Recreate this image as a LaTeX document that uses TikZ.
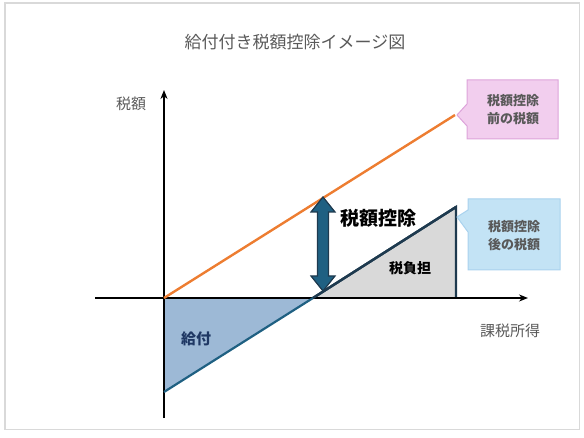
\documentclass[tikz,border=0pt]{standalone}
\usepackage{fontspec}
\usetikzlibrary{arrows.meta}
\setmainfont{Liberation Sans}
\newfontfamily\jp{Noto Sans CJK JP}
\newcommand\jpb{\jp\bfseries}
\definecolor{frame}{HTML}{D9D9D9}
\definecolor{orangeL}{HTML}{ED7D31}
\definecolor{blueL}{HTML}{1F6082}
\definecolor{blueF}{HTML}{9DB9D6}
\definecolor{grayF}{HTML}{D9D9D9}
\definecolor{darkO}{HTML}{1E3A4F}
\definecolor{txtG}{HTML}{595959}
\definecolor{navy}{HTML}{1F3864}
\definecolor{pinkF}{HTML}{F2CEEE}
\definecolor{pinkD}{HTML}{DDA3DA}
\definecolor{cyanF}{HTML}{C3E3F5}
\definecolor{cyanD}{HTML}{A9D2EE}
\begin{document}
\begin{tikzpicture}[x=1pt,y=-1pt,
  lbl/.style={inner sep=0pt,text=txtG,font=\jp\fontsize{15}{18}\selectfont},
  callout/.style={inner sep=0pt,text=txtG,align=center,font=\jpb\fontsize{13}{18}\selectfont},
  axis/.style={line width=1.6pt,-{Stealth[length=9pt,width=7pt]}}]
\useasboundingbox (0,0) rectangle (584,438);
\draw[frame,line width=1.2pt] (5,3) rectangle (579.5,429.5);
% title
\node[lbl,font=\jp\fontsize{17}{19}\selectfont] (title) at (295,42) {給付付き税額控除イメージ図};
% key points
\coordinate (O) at (164,298);
\coordinate (Z) at (313,298);
\coordinate (B0) at (164,392);
\coordinate (B1) at (456,207);
\coordinate (B2) at (456,298);
\coordinate (R1) at (455,115);
% filled triangles
\fill[blueF] (O) -- (Z) -- (B0) -- cycle;
\fill[grayF] (Z) -- (B1) -- (B2) -- cycle;
\draw[darkO,line width=2.4pt,line join=miter] (Z) -- (B1) -- (B2);
% axes
\coordinate (xs) at (95,298);
\coordinate (xe) at (528,298);
\coordinate (ys) at (164,418);
\coordinate (ye) at (164,90);
\draw[axis] (xs) -- (xe);
\draw[axis] (ys) -- (ye);
% lines
\draw[orangeL,line width=2.4pt] (O) -- (R1);
\draw[blueL,line width=2.2pt] (B0) -- (Z);
\draw[darkO,line width=2.4pt] (Z) -- (B1);
% double arrow
\fill[blueL,draw=darkO,line width=1.2pt,line join=miter]
  (323,197) -- (335,212) -- (328.5,212) -- (328.5,276) -- (335,276) -- (323,291)
  -- (311,276) -- (317.5,276) -- (317.5,212) -- (311,212) -- cycle;
% labels
\node[inner sep=0pt,font=\jpb\fontsize{19}{22}\selectfont] (kojo) at (378,218) {税額控除};
\node[inner sep=0pt,font=\jpb\fontsize{14}{16}\selectfont] (futan) at (410,268) {税負担};
\node[inner sep=0pt,text=navy,font=\jpb\fontsize{15}{18}\selectfont] (kyufu) at (196,339) {給付};
\node[lbl] (zeigaku) at (131,104) {税額};
\node[lbl] (kazei) at (510,331) {課税所得};
% callouts
\filldraw[fill=pinkF,draw=pinkD,line width=1pt,line join=miter]
  (467,80) -- (558,80) -- (558,139) -- (467,139) -- (467,126) -- (457,115) -- (467,104) -- cycle;
\node[callout] (c1) at (513,110) {税額控除\\前の税額};
\filldraw[fill=cyanF,draw=cyanD,line width=1pt,line join=miter]
  (468,199) -- (560,199) -- (560,270) -- (468,270) -- (468,232) -- (457,217) -- (468,210) -- cycle;
\node[callout] (c2) at (514,236) {税額控除\\後の税額};
\end{tikzpicture}
\end{document}
